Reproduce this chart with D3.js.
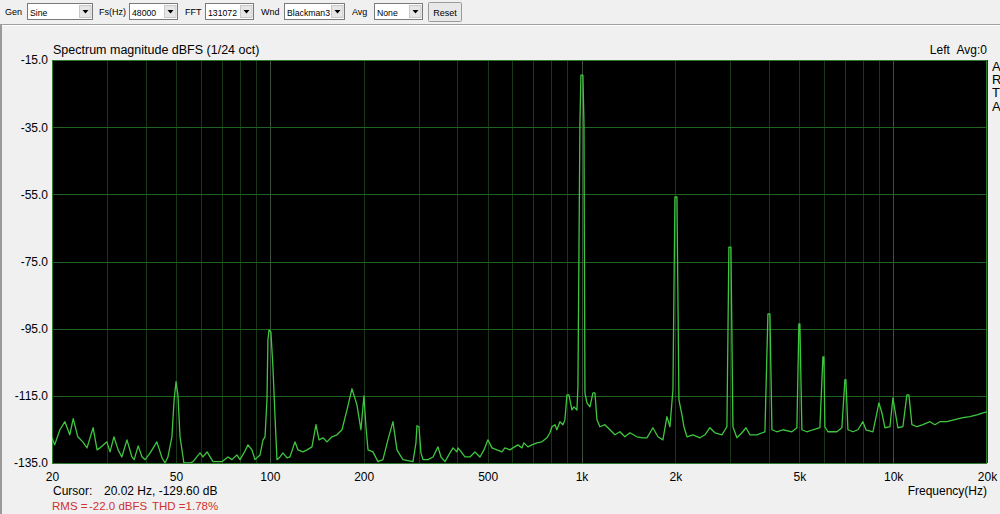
<!DOCTYPE html>
<html><head><meta charset="utf-8">
<script src="https://cdn.jsdelivr.net/npm/d3@7"></script>
<style>
html,body{margin:0;padding:0;background:#f0f0f0;overflow:hidden;}
svg{display:block;font-family:"Liberation Sans",Arial,sans-serif;}
</style></head>
<body><svg id="c" width="1000" height="514"></svg>
<script>
// ---- data ----
const freqs = [20.0,20.4,21.2,22.0,22.8,23.4,24.2,25.1,25.9,27.1,27.9,28.5,30.0,30.7,31.6,32.6,33.5,34.8,36.1,36.7,37.8,38.9,39.8,41.3,43.4,45.1,46.1,47.1,48.5,49.3,50.0,50.7,51.5,53.0,55.4,56.7,59.7,61.0,62.9,64.3,65.7,70.2,73.4,75.6,78.4,80.2,82.6,85.1,87.6,89.6,93.0,95.1,96.5,97.9,98.6,99.4,100.8,102.3,103.9,105.4,107.8,110.2,113.5,116.0,120.4,123.1,127.7,131.6,136.5,140.6,143.8,148.1,152.5,158.2,164.2,170.4,176.8,183.4,190.3,196.0,200.4,203.4,206.5,214.2,222.3,230.6,239.3,248.3,255.8,261.5,267.4,287.9,294.3,296.5,300.9,305.4,310.0,321.7,333.8,346.3,354.1,364.7,378.4,386.9,398.4,401.4,413.4,422.7,438.6,455.1,472.2,486.4,500.9,515.9,535.3,555.4,567.9,589.3,602.5,625.1,643.8,653.4,673.0,693.2,719.3,746.5,774.6,791.9,803.7,821.7,833.9,852.6,871.7,884.7,897.9,911.2,931.6,945.5,966.7,973.9,988.4,995.7,1010.5,1018.0,1025.6,1040.9,1064.2,1088.0,1104.2,1120.6,1145.7,1188.8,1233.5,1279.9,1328.1,1378.0,1429.8,1505.7,1573.9,1621.2,1694.7,1758.5,1824.6,1879.4,1921.8,1964.9,1994.1,2023.8,2053.8,2099.8,2131.2,2179.0,2277.8,2398.6,2488.8,2582.4,2679.4,2821.6,2927.6,2971.2,3015.6,3060.6,3152.6,3271.4,3369.6,3470.6,3654.8,3877,3963.8,4022.8,4082.6,4236,4428,4732,4910,4982,5020,5094,5286,5526,5820,5950,5994,6038,6174,6598,6846,7000,7052,7158,7426,7706,7996,8176,8610,8868,9000,9202,9408,9762,9982,10126,10354,10744,11066,11232,11484,11916,12456,13116,13610,14122,14872,15778,16738,17626,18562,19404,20000];
const magnitudes = [-127.5,-129.6,-125.1,-122.7,-126.6,-121.8,-127.2,-128.7,-130.5,-124.5,-131.1,-130.5,-128.7,-131.7,-127.2,-131.1,-133.2,-128.1,-133.2,-134.0,-129.9,-133.2,-134.0,-132.0,-128.7,-133.5,-135.0,-133.2,-127.2,-116.2,-110.8,-114.7,-127.2,-135.0,-135.0,-134.6,-132.0,-133.2,-131.7,-133.2,-134.6,-134.6,-133.2,-134.0,-132.6,-134.0,-132.0,-129.6,-131.1,-134.0,-132.6,-128.1,-127.2,-116.2,-98.3,-95.4,-96.0,-106.4,-121.2,-134.0,-133.2,-132.0,-133.5,-133.2,-128.7,-131.1,-131.7,-131.1,-130.2,-123.6,-128.1,-127.5,-128.7,-127.2,-126.6,-125.1,-119.2,-112.9,-117.7,-125.1,-115.0,-124.2,-131.1,-131.7,-134.6,-134.0,-128.1,-122.7,-131.1,-132.6,-134.0,-134.6,-129.0,-123.9,-124.2,-132.0,-134.0,-134.0,-133.2,-130.2,-133.2,-134.6,-132.0,-130.5,-131.7,-130.5,-132.0,-133.2,-133.2,-131.7,-133.2,-131.1,-128.1,-130.5,-131.1,-131.7,-130.5,-131.1,-130.5,-129.6,-130.5,-129.0,-130.2,-129.6,-129.0,-128.7,-127.5,-126.0,-124.2,-123.6,-125.1,-122.7,-123.6,-122.1,-114.7,-114.7,-119.2,-118.3,-119.2,-112.3,-33.8,-19.5,-19.5,-33.8,-114.1,-117.1,-118.3,-114.1,-114.1,-122.1,-124.2,-123.6,-125.1,-126.6,-125.7,-127.2,-126.0,-127.2,-127.5,-127.5,-124.5,-127.2,-128.1,-121.2,-124.2,-113.2,-55.8,-55.8,-116.2,-120.7,-124.2,-127.2,-126.6,-127.5,-126.6,-124.5,-126.0,-126.6,-124.2,-70.7,-70.7,-124.2,-127.5,-126.0,-124.5,-126.6,-126.6,-125.7,-90.6,-90.6,-125.1,-125.7,-125.1,-125.7,-124.5,-93.6,-93.6,-125.1,-125.7,-125.1,-124.5,-103.4,-103.4,-124.2,-125.7,-125.7,-124.5,-110.2,-110.2,-125.1,-125.7,-125.1,-122.7,-125.1,-125.7,-120.1,-117.1,-120.1,-124.5,-124.2,-115.6,-119.2,-124.5,-124.2,-114.7,-114.7,-123.6,-124.2,-123.6,-122.7,-123.6,-122.7,-122.7,-122.1,-121.5,-121.2,-120.7,-120.1,-119.8];
const xTickValues = [20,50,100,200,500,1000,2000,5000,10000,20000];
const xTickLabels = ["20","50","100","200","500","1k","2k","5k","10k","20k"];
const yTickValues = [-15,-35,-55,-75,-95,-115,-135];
const toolbarLabels = ["Gen","Fs(Hz)","FFT","Wnd","Avg"];
const toolbarValues = ["Sine","48000","131072","Blackman3","None"];

// ---- layout ----
const svg = d3.select("#c");
const L = 52, R = 987, T = 60, B = 463;
const x = d3.scaleLog().domain([20,20000]).range([L,R]);
const y = d3.scaleLinear().domain([-135,-15]).range([B,T]);

// window chrome
svg.append("rect").attr("width",1000).attr("height",514).attr("fill","#f0f0f0");
svg.append("line").attr("x1",0).attr("x2",1000).attr("y1",24.5).attr("y2",24.5).attr("stroke","#a0a0a0");
svg.append("line").attr("x1",0).attr("x2",1000).attr("y1",25.5).attr("y2",25.5).attr("stroke","#ffffff");
svg.append("line").attr("x1",1).attr("x2",1).attr("y1",25).attr("y2",514).attr("stroke","#9a9a9a").attr("stroke-width",2);

// toolbar
const tb = svg.append("g").attr("fill","#000");
const labelX = [5,99,185,261,352];
const boxX = [27,129,205,284,374];
const boxW = [65,48,48,60,48];
toolbarLabels.forEach((t,i)=>{
  tb.append("text").attr("x",labelX[i]).attr("y",15).text(t).attr("font-size",9);
  const g = tb.append("g").attr("transform",`translate(${boxX[i]},3)`);
  g.append("rect").attr("x",0.5).attr("y",0.5).attr("width",boxW[i]).attr("height",16).attr("fill","#fff").attr("stroke","#7a7a7a");
  g.append("text").attr("x",3).attr("y",12.5).text(toolbarValues[i]).attr("font-size",8.7);
  g.append("rect").attr("x",boxW[i]-12.5).attr("y",2.5).attr("width",11.5).attr("height",12).attr("fill","#e6e6e6").attr("stroke","#c8c8c8");
  g.append("path").attr("d",`M${boxW[i]-9.5},7 h6 l-3,3.5 z`).attr("fill","#000");
});
const rb = tb.append("g").attr("transform","translate(428,2)");
rb.append("rect").attr("x",0.5).attr("y",0.5).attr("width",33).attr("height",19).attr("fill","#e8e8e8").attr("stroke","#9a9a9a").attr("rx",1);
rb.append("text").attr("x",17).attr("y",13.5).attr("text-anchor","middle").text("Reset").attr("font-size",9);

// plot background
svg.append("rect").attr("x",L).attr("y",T).attr("width",R-L).attr("height",B-T).attr("fill","#000");

// grid
const gridF = [];
for (let dec=10; dec<=10000; dec*=10) for (let m=1;m<=9;m++){ const f=m*dec; if(f>=20&&f<=20000) gridF.push(f);} 
gridF.push(20000);
svg.append("g").selectAll("line").data(gridF).join("line")
  .attr("x1",d=>Math.round(x(d))+0.5).attr("x2",d=>Math.round(x(d))+0.5)
  .attr("y1",T).attr("y2",B)
  .attr("stroke",d=>[100,1000,10000].includes(d)?"#3e4e3e":"#183818").attr("stroke-width",1);
svg.append("g").selectAll("line").data(yTickValues).join("line")
  .attr("x1",L).attr("x2",R)
  .attr("y1",d=>Math.round(y(d))+0.5).attr("y2",d=>Math.round(y(d))+0.5)
  .attr("stroke","#1f621f").attr("stroke-width",1);
svg.append("rect").attr("x",L+0.5).attr("y",T+0.5).attr("width",R-L-1).attr("height",B-T).attr("fill","none").attr("stroke","#2f7a2f");

// trace
svg.append("clipPath").attr("id","pc").append("rect").attr("x",L).attr("y",T).attr("width",R-L).attr("height",B-T);
const data = freqs.map((f,i)=>[f,magnitudes[i]]);
svg.append("path").datum(data).attr("clip-path","url(#pc)")
  .attr("d",d3.line().x(d=>x(d[0])).y(d=>y(d[1])))
  .attr("fill","none").attr("stroke","#3ec63e").attr("stroke-width",1.3).attr("stroke-linejoin","round");

// axes
const ax = svg.append("g").attr("transform",`translate(0,${B})`)
  .call(d3.axisBottom(x).tickValues(xTickValues).tickFormat((d,i)=>xTickLabels[i]).tickSize(0).tickPadding(9));
ax.select(".domain").remove();
ax.selectAll("text").attr("font-size",12).attr("fill","#000").attr("font-family","Liberation Sans, Arial, sans-serif");
const ay = svg.append("g").attr("transform",`translate(${L},0)`)
  .call(d3.axisLeft(y).tickValues(yTickValues).tickFormat(d=>d.toFixed(1)).tickSize(0).tickPadding(4));
ay.select(".domain").remove();
ay.selectAll("text").attr("font-size",12).attr("fill","#000").attr("font-family","Liberation Sans, Arial, sans-serif");

// texts
svg.append("text").attr("x",53).attr("y",54).attr("font-size",12.5).text("Spectrum magnitude dBFS (1/24 oct)");
svg.append("text").attr("x",987).attr("y",54).attr("font-size",12).attr("text-anchor","end").text("Left\u00a0\u00a0Avg:0");
["A","R","T","A"].forEach((c,i)=>svg.append("text").attr("x",992).attr("y",71+i*13.2).attr("font-size",13).text(c));
svg.append("text").attr("x",987).attr("y",495).attr("font-size",12).attr("text-anchor","end").text("Frequency(Hz)");
svg.append("text").attr("x",53).attr("y",495).attr("font-size",12).text("Cursor:");
svg.append("text").attr("x",104).attr("y",495).attr("font-size",12).text("20.02 Hz, -129.60 dB");
const red = svg.append("g").attr("fill","#d03030").attr("font-size",11.5);
red.append("text").attr("x",52).attr("y",510).text("RMS =");
red.append("text").attr("x",89).attr("y",510).text("-22.0 dBFS");
red.append("text").attr("x",152).attr("y",510).text("THD =1.78%");
</script></body></html>
